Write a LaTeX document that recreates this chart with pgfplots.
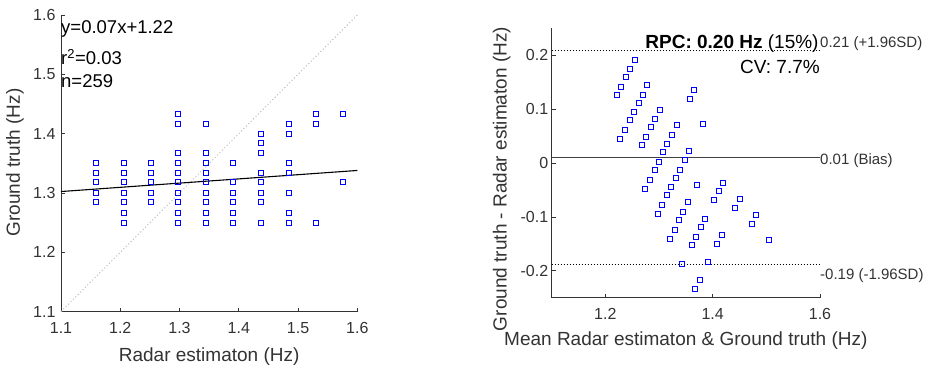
\documentclass[border=0pt]{standalone}
\usepackage{fontspec}
\setmainfont{Liberation Sans}
\usepackage{pgfplots}
\pgfplotsset{compat=1.18}
\definecolor{axgray}{rgb}{0.2,0.2,0.2}
\pgfplotsset{myax/.style={
  scale only axis, anchor=south west,
  axis lines=left, axis line style={-, draw=axgray, line width=0.7pt},
  enlargelimits=false,
  tick align=inside, major tick length=4pt,
  tick style={axgray, line width=0.7pt},
  every tick label/.append style={font=\fontsize{16}{19}\selectfont, text=axgray},
  xticklabel style={yshift=-7pt},
  label style={font=\fontsize{19}{23}\selectfont, text=axgray},
  /pgf/number format/assume math mode=true,
  clip=false,
}}
\pgfplotstableread{
x y
1.159 1.350
1.159 1.333
1.159 1.318
1.159 1.300
1.159 1.285
1.206 1.350
1.206 1.333
1.206 1.318
1.206 1.300
1.206 1.285
1.206 1.267
1.206 1.250
1.252 1.350
1.252 1.333
1.252 1.318
1.252 1.300
1.252 1.285
1.298 1.433
1.298 1.417
1.298 1.368
1.298 1.350
1.298 1.333
1.298 1.318
1.298 1.300
1.298 1.285
1.298 1.267
1.298 1.250
1.345 1.417
1.345 1.368
1.345 1.350
1.345 1.333
1.345 1.318
1.345 1.300
1.345 1.285
1.345 1.267
1.345 1.250
1.391 1.350
1.391 1.318
1.391 1.300
1.391 1.285
1.391 1.267
1.391 1.250
1.437 1.400
1.437 1.385
1.437 1.368
1.437 1.333
1.437 1.318
1.437 1.300
1.437 1.285
1.437 1.250
1.484 1.417
1.484 1.400
1.484 1.350
1.484 1.333
1.484 1.300
1.484 1.267
1.484 1.250
1.530 1.433
1.530 1.417
1.530 1.250
1.576 1.433
1.576 1.318
}\scatterdata
\pgfplotstableread{
m d
1.2545 0.191
1.246 0.174
1.2385 0.159
1.2295 0.141
1.222 0.126
1.278 0.144
1.2695 0.127
1.262 0.112
1.253 0.094
1.2455 0.079
1.2365 0.061
1.228 0.044
1.301 0.098
1.2925 0.081
1.285 0.066
1.276 0.048
1.2685 0.033
1.3655 0.135
1.3575 0.119
1.333 0.070
1.324 0.052
1.3155 0.035
1.308 0.020
1.299 0.002
1.2915 -0.013
1.2825 -0.031
1.274 -0.048
1.381 0.072
1.3565 0.023
1.3475 0.005
1.339 -0.012
1.3315 -0.027
1.3225 -0.045
1.315 -0.060
1.306 -0.078
1.2975 -0.095
1.3705 -0.041
1.3545 -0.073
1.3455 -0.091
1.338 -0.106
1.329 -0.124
1.3205 -0.141
1.4185 -0.037
1.411 -0.052
1.4025 -0.069
1.385 -0.104
1.3775 -0.119
1.3685 -0.137
1.361 -0.152
1.3435 -0.187
1.4505 -0.067
1.442 -0.084
1.417 -0.134
1.4085 -0.151
1.392 -0.184
1.3755 -0.217
1.367 -0.234
1.4815 -0.097
1.4735 -0.113
1.5045 -0.143
}\badata
\begin{document}
\begin{tikzpicture}[x=1pt,y=1pt]
\useasboundingbox (0,0) rectangle (930,370);
% Left: scatter
\begin{axis}[myax, at={(61pt,58.3pt)}, width=296.3pt, height=296.7pt,
  xmin=1.1, xmax=1.6, ymin=1.1, ymax=1.6,
  xtick={1.1,1.2,1.3,1.4,1.5,1.6}, xticklabels={1.1,1.2,1.3,1.4,1.5,1.6},
  ytick={1.1,1.2,1.3,1.4,1.5,1.6}, yticklabels={1.1,1.2,1.3,1.4,1.5,1.6},
  yticklabel style={xshift=-2pt},
  xlabel={Radar estimaton (Hz)}, ylabel={Ground truth (Hz)},
  xlabel style={at={(axis description cs:0.5,-0.152)}, anchor=center},
  ylabel style={at={(axis description cs:-0.155,0.503)}, anchor=center},
]
\addplot[gray!50, dash pattern=on 1.1pt off 2.3pt, line width=1pt] coordinates {(1.1,1.1) (1.6,1.6)};
\addplot[blue, only marks, mark=square, mark size=2.5pt, mark options={line width=0.9pt}] table[x=x,y=y] {\scatterdata};
\addplot[black, line width=1.1pt] coordinates {(1.1,1.3025) (1.6,1.338)};
\node[anchor=west, inner sep=0pt, font=\fontsize{18.5}{22}\selectfont] at (axis cs:1.1,1.5765) {y=0.07x+1.22};
\node[anchor=west, inner sep=0pt, font=\fontsize{18.5}{22}\selectfont] at (axis cs:1.1,1.529) {r\textsuperscript{2}=0.03};
\node[anchor=west, inner sep=0pt, font=\fontsize{18.5}{22}\selectfont] at (axis cs:1.1,1.488) {n=259};
\end{axis}
% Right: Bland-Altman
\begin{axis}[myax, at={(551.7pt,72.3pt)}, width=268.3pt, height=269.4pt,
  xmin=1.1, xmax=1.6, ymin=-0.25, ymax=0.25,
  xtick={1.2,1.4,1.6}, xticklabels={1.2,1.4,1.6},
  ytick={-0.2,-0.1,0,0.1,0.2}, yticklabels={-0.2,-0.1,0,0.1,0.2},
  xlabel={Mean Radar estimaton \& Ground truth (Hz)}, ylabel={Ground truth - Radar estimaton (Hz)},
  xlabel style={at={(axis description cs:0.5,-0.1596)}, anchor=center},
  ylabel style={at={(axis description cs:-0.1864,0.4406)}, anchor=center},
]
\addplot[blue, only marks, mark=square, mark size=2.5pt, mark options={line width=0.9pt}] table[x=m,y=d] {\badata};
\addplot[black!75, line width=1.1pt] coordinates {(1.1,0.011) (1.6,0.011)};
\addplot[black, dash pattern=on 1pt off 2pt, line width=0.9pt] coordinates {(1.1,0.2085) (1.6,0.2085)};
\addplot[black, dash pattern=on 1pt off 2pt, line width=0.9pt] coordinates {(1.1,-0.1885) (1.6,-0.1885)};
\node[anchor=east, inner sep=0pt, font=\fontsize{19}{23}\selectfont] at (axis cs:1.5977,0.2225) {\textbf{RPC: 0.20 Hz} (15\%)};
\node[anchor=east, inner sep=0pt, font=\fontsize{19}{23}\selectfont] at (axis cs:1.6,0.1785) {CV: 7.7\%};
\node[anchor=west, inner sep=0pt, text=axgray, font=\fontsize{15}{18}\selectfont] at (axis cs:1.6,0.222) {0.21 (+1.96SD)};
\node[anchor=west, inner sep=0pt, text=axgray, font=\fontsize{15}{18}\selectfont] at (axis cs:1.6,0.005) {0.01 (Bias)};
\node[anchor=west, inner sep=0pt, text=axgray, font=\fontsize{15}{18}\selectfont] at (axis cs:1.6,-0.209) {-0.19 (-1.96SD)};
\end{axis}
\end{tikzpicture}
\end{document}
